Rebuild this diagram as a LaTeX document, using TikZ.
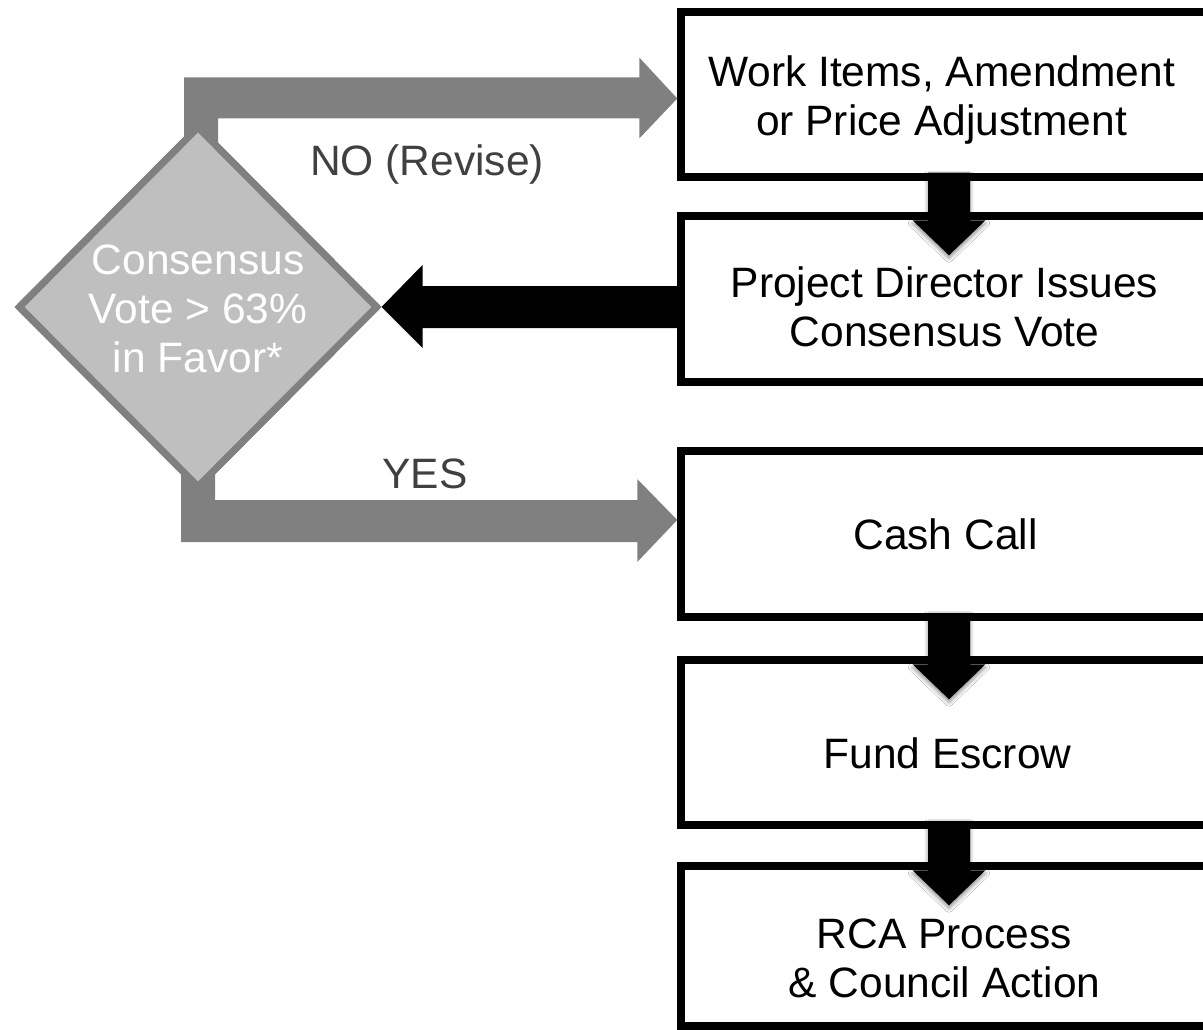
\documentclass[tikz,border=0pt]{standalone}
\usepackage{fontspec}
\setmainfont{Liberation Sans}
\usetikzlibrary{shapes.geometric,calc,shadows.blur}
\definecolor{arrowgray}{HTML}{808080}
\definecolor{diafill}{HTML}{BFBFBF}
\definecolor{labelgray}{HTML}{404040}
\begin{document}
\begin{tikzpicture}[x=1pt,y=-1pt,
  box/.style={draw=black, line width=7.5pt, fill=white, rectangle, inner sep=0pt, minimum width=529pt},
  boxtext/.style={font=\fontsize{42.5}{49}\selectfont, align=center, text=black, inner sep=0pt},
  dia/.style={draw=arrowgray, fill=diafill, line width=7pt, diamond, inner sep=0pt, minimum width=360pt, minimum height=362pt, line join=miter},
  diatext/.style={font=\fontsize{42.5}{49}\selectfont, align=center, text=white, inner sep=0pt},
  lbl/.style={font=\fontsize{42.5}{49}\selectfont, text=labelgray, inner sep=0pt, anchor=base},
  grayarrow/.style={fill=arrowgray},
  blackarrow/.style={fill=black},
  downarrow/.style={fill=black, blur shadow={shadow xshift=0pt, shadow yshift=-3pt, shadow blur radius=4pt, shadow opacity=45}},
]
\useasboundingbox (0,0) rectangle (1203,1030);

% boxes
\node[box, minimum height=165pt] (b1) at (945.5,94.5) {};
\node[box, minimum height=166pt] (b2) at (945.5,299) {};
\node[box, minimum height=166pt] (b3) at (945.5,534) {};
\node[box, minimum height=165pt] (b4) at (945.5,742.5) {};
\node[box, minimum height=160pt] (b5) at (945.5,946) {};

% decision diamond
\node[dia] (dia) at (198,307) {};

% gray NO arrow
\fill[grayarrow] let \p1=(dia.north), \p2=($(b1.west)+(0,4)$) in
  (\x1-14pt,\y1-30pt) -- (\x1-14pt,\y2+21pt) -- (\x2-38pt,\y2+21pt) -- (\x2-38pt,\y2+41pt)
  -- (\x2,\y2) -- (\x2-38pt,\y2-40pt) -- (\x2-38pt,\y2-20pt) -- (\x1+20pt,\y2-20pt)
  -- (\x1+20pt,\y1-30pt) -- cycle;

% gray YES arrow
\fill[grayarrow] let \p1=(dia.south), \p2=($(b3.west)+(0,-14)$) in
  (\x1-17pt,\y1+30pt) -- (\x1-17pt,\y2-22pt) -- (\x2-40pt,\y2-22pt) -- (\x2-40pt,\y2-42pt)
  -- (\x2,\y2) -- (\x2-40pt,\y2+41pt) -- (\x2-40pt,\y2+20pt) -- (\x1+17pt,\y2+20pt)
  -- (\x1+17pt,\y1+30pt) -- cycle;

% redraw diamond on top of the stems
\node[dia] (dia2) at (dia.center) {};

% black arrow back to the diamond
\fill[blackarrow] let \p1=(dia.east), \p2=(b2.west) in
  (\x1,\y1) -- (\x1+41pt,\y1+42pt) -- (\x1+41pt,\y1+21pt) -- (\x2+4pt,\y1+21pt)
  -- (\x2+4pt,\y1-21pt) -- (\x1+41pt,\y1-21pt) -- (\x1+41pt,\y1-41pt) -- cycle;

% black down arrows
\foreach \a/\b in {b1/b2,b3/b4,b4/b5}{
  \fill[downarrow] let \p1=($(\a.south)+(3.5,-8)$), \p2=($(\b.north)+(3.5,8)$) in
    (\x1-21pt,\y1) -- (\x1+21pt,\y1) -- (\x1+21pt,\y2) -- (\x1+36.5pt,\y2)
    -- (\x1,\y2-35pt) -- (\x1-36.5pt,\y2) -- (\x1-21pt,\y2) -- cycle;
}

% texts
\node[boxtext] (t1) at ($(b1.center)+(-4,6)$) {Work Items, Amendment\\or Price Adjustment};
\node[boxtext] (t2) at ($(b2.center)+(-1,8)$) {Project Director Issues\\Consensus Vote};
\node[boxtext] (t3) at ($(b3.center)+(0,0)$) {Cash Call};
\node[boxtext] (t4) at ($(b4.center)+(2,11)$) {Fund Escrow};
\node[boxtext] (t5) at ($(b5.center)+(-1,12)$) {RCA Process\\\& Council Action};
\node[diatext] (dt) at ($(dia.center)+(0,2)$) {Consensus\\Vote > 63\%\\in Favor*};
\node[lbl] (no) at (427,176) {NO (Revise)};
\node[lbl] (yes) at (425,488) {YES};
\end{tikzpicture}
\end{document}
